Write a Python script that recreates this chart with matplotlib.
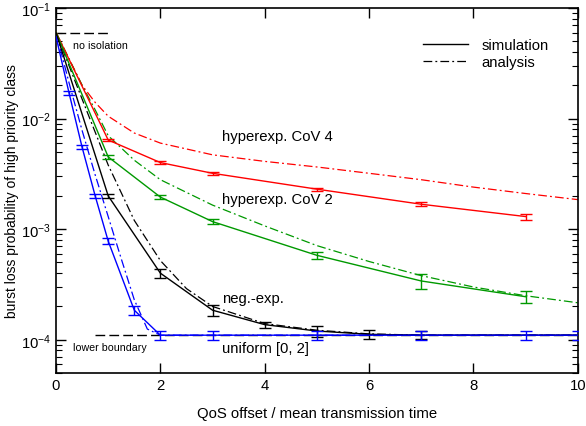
import numpy as np
import matplotlib
matplotlib.use("Agg")
import matplotlib.pyplot as plt
from matplotlib.ticker import LogLocator, FixedLocator, NullFormatter

plt.rcParams['font.family'] = ['Liberation Sans', 'DejaVu Sans']
plt.rcParams['mathtext.fontset'] = 'custom'
plt.rcParams['mathtext.rm'] = 'Liberation Sans'
plt.rcParams['mathtext.default'] = 'regular'

# --- simulation results (with confidence intervals, relative half-width) ---
cov4_x = [0, 1, 2, 3, 5, 7, 9]
cov4_y = [6.0e-2, 6.4e-3, 4.0e-3, 3.2e-3, 2.3e-3, 1.68e-3, 1.30e-3]
cov4_err = [0, 0.03, 0.03, 0.03, 0.03, 0.04, 0.06]

cov2_x = [0, 1, 2, 3, 5, 7, 9]
cov2_y = [6.0e-2, 4.5e-3, 1.95e-3, 1.17e-3, 5.8e-4, 3.4e-4, 2.45e-4]
cov2_err = [0, 0.04, 0.04, 0.05, 0.07, 0.15, 0.13]

negexp_x = [0, 1, 2, 3, 4, 5, 6, 7, 10]
negexp_y = [6.0e-2, 2.0e-3, 4.0e-4, 1.85e-4, 1.37e-4, 1.2e-4, 1.12e-4, 1.1e-4, 1.1e-4]
negexp_err = [0, 0.05, 0.09, 0.11, 0.06, 0.12, 0.09, 0.08, 0]

unif_x = [0, 0.25, 0.5, 0.75, 1, 1.5, 2, 3, 5, 7, 9, 10]
unif_y = [5.5e-2, 1.7e-2, 5.5e-3, 2.0e-3, 7.8e-4, 1.85e-4, 1.1e-4, 1.1e-4, 1.1e-4, 1.1e-4, 1.1e-4, 1.1e-4]
unif_err = [0, 0.04, 0.04, 0.05, 0.06, 0.09, 0.09, 0.09, 0.09, 0.09, 0.09, 0.09]

# --- analytical results ---
ana_x = [0, 0.5, 0.75, 1, 1.5, 2, 3, 4, 5, 6, 7, 8, 9, 10]
cov4_ana = [6.0e-2, 2.0e-2, 1.4e-2, 1.05e-2, 7.4e-3, 6.0e-3, 4.7e-3, 4.1e-3, 3.65e-3,
            3.2e-3, 2.8e-3, 2.4e-3, 2.1e-3, 1.85e-3]
cov2_ana = [6.0e-2, 2.0e-2, 1.2e-2, 7.0e-3, 4.2e-3, 2.8e-3, 1.65e-3, 1.07e-3, 7.1e-4,
            5.1e-4, 3.8e-4, 3.0e-4, 2.5e-4, 2.16e-4]

negexp_ana_x = [0, 0.5, 1, 1.5, 2, 2.5, 3, 4, 5, 6, 7, 10]
negexp_ana = [6.0e-2, 1.5e-2, 3.8e-3, 1.2e-3, 5.2e-4, 2.9e-4, 2.0e-4, 1.4e-4, 1.22e-4,
              1.13e-4, 1.1e-4, 1.1e-4]

unif_ana_x = [0, 0.25, 0.5, 0.75, 1, 1.25, 1.5, 1.75, 2, 10]
unif_ana = [6.0e-2, 2.1e-2, 7.8e-3, 3.1e-3, 1.3e-3, 5.4e-4, 2.3e-4, 1.25e-4, 1.1e-4, 1.1e-4]

no_isolation = 6.0e-2
lower_boundary = 1.1e-4

DASHDOT = (0, (7, 2.5, 1.5, 2.5))
FS = 10.7

fig = plt.figure(figsize=(5.86, 4.27), dpi=100)
ax = fig.add_axes([0.0956, 0.124, 0.8904, 0.855])

# reference levels
ax.plot([0, 1.0], [no_isolation] * 2, color='black', lw=1.0, ls=(0, (7, 3)))
ax.plot([0.75, 10], [lower_boundary] * 2, color='black', lw=1.0, ls=(0, (7, 3)))


def sim(x, y, err, color):
    x = np.array(x, float)
    y = np.array(y, float)
    e = np.array(err, float) * y
    ax.plot(x, y, color=color, lw=1.0, zorder=3)
    m = e > 0
    ax.errorbar(x[m], y[m], yerr=e[m], fmt='none', ecolor=color, elinewidth=1.0,
                capsize=4.5, capthick=1.0, zorder=3)


sim(cov4_x, cov4_y, cov4_err, '#ff0000')
sim(cov2_x, cov2_y, cov2_err, '#009900')
sim(negexp_x, negexp_y, negexp_err, 'black')
sim(unif_x, unif_y, unif_err, '#0000ff')

ax.plot(ana_x, cov4_ana, color='#ff0000', lw=0.9, ls=DASHDOT)
ax.plot(ana_x, cov2_ana, color='#009900', lw=0.9, ls=DASHDOT)
ax.plot(negexp_ana_x, negexp_ana, color='black', lw=0.9, ls=DASHDOT)
ax.plot(unif_ana_x, unif_ana, color='#0000ff', lw=0.9, ls=DASHDOT)

# curve labels
ax.text(0.33, 5.1e-2, 'no isolation', fontsize=7.7, va='top')
ax.text(0.33, 9.6e-5, 'lower boundary', fontsize=7.7, va='top')
ax.text(3.18, 6.9e-3, 'hyperexp. CoV 4', fontsize=FS, va='center')
ax.text(3.18, 1.87e-3, 'hyperexp. CoV 2', fontsize=FS, va='center')
ax.text(3.18, 2.4e-4, 'neg.-exp.', fontsize=FS, va='center')
ax.text(3.18, 8.5e-5, 'uniform [0, 2]', fontsize=FS, va='center')

# legend
ax.plot([], [], color='black', lw=1.0, label='simulation')
ax.plot([], [], color='black', lw=0.9, ls=DASHDOT, label='analysis')
ax.legend(loc='upper right', bbox_to_anchor=(0.955, 0.934), frameon=False, fontsize=FS,
          handlelength=3.0, handletextpad=0.9, labelspacing=0.2, borderaxespad=0)

ax.set_yscale('log')
ax.set_xlim(0, 10)
ax.set_ylim(5e-5, 1e-1)
ax.xaxis.set_major_locator(FixedLocator([0, 2, 4, 6, 8, 10]))
ax.yaxis.set_major_locator(LogLocator(base=10, numticks=10))
ax.yaxis.set_minor_locator(LogLocator(base=10, subs=np.arange(2, 10), numticks=10))
ax.yaxis.set_minor_formatter(NullFormatter())
ax.tick_params(which='both', direction='in', top=True, right=True, labelsize=FS)
ax.tick_params(which='major', length=7, width=1.0)
ax.tick_params(which='minor', length=4, width=0.8)
for s in ax.spines.values():
    s.set_linewidth(1.2)

ax.set_xlabel('QoS offset / mean transmission time', fontsize=FS, labelpad=10)
ax.set_ylabel('burst loss probability of high priority class', fontsize=10)
ax.yaxis.set_label_coords(-0.07, 0.5)

fig.savefig('out.png', dpi=100)
